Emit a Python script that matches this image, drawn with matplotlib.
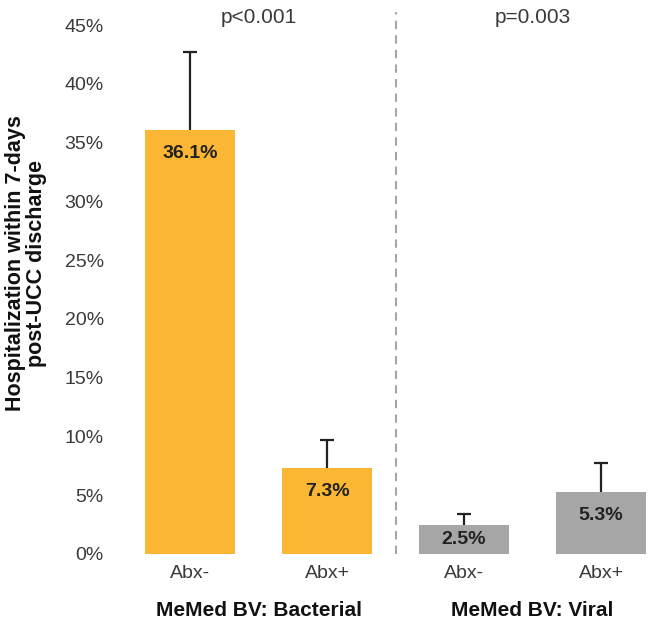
import matplotlib.pyplot as plt

plt.rcParams['font.family'] = ['Liberation Sans', 'DejaVu Sans']

categories = ['Abx-', 'Abx+', 'Abx-', 'Abx+']
values = [36.1, 7.3, 2.5, 5.3]
err_upper = [6.6, 2.4, 0.9, 2.4]
groups = ['MeMed BV: Bacterial', 'MeMed BV: Viral']
p_values = ['p<0.001', 'p=0.003']
yticks = [0, 5, 10, 15, 20, 25, 30, 35, 40, 45]

orange = '#FBB634'
gray = '#A6A6A6'
bar_colors = [orange, orange, gray, gray]

fig = plt.figure(figsize=(6.5, 6.23), dpi=100)
ax = fig.add_axes([108 / 650, 69 / 623, 541 / 650, 529 / 623])

x = list(range(len(values)))
ax.bar(x, values, width=0.66, color=bar_colors, zorder=2)
_, caps, _ = ax.errorbar(x, values, yerr=[[0] * len(values), err_upper], fmt='none',
                         ecolor='#222222', elinewidth=1.6, capsize=5,
                         capthick=1.6, zorder=3)
# only keep the upper cap
caps[0].set_visible(False)

for xi, v in zip(x, values):
    y = v - 2 if v > 4 else v / 2
    ax.text(xi, y, f'{v:.1f}%', ha='center', va='center', fontsize=14,
            fontweight='bold', color='#222222', zorder=4)

ax.set_xlim(-0.6, 3.35)
ax.set_ylim(0, 45)
ax.set_yticks(yticks)
ax.set_yticklabels([f'{t}%' for t in yticks], fontsize=14, color='#3a3a3a')
ax.set_xticks(x)
ax.set_xticklabels(categories, fontsize=14, color='#3a3a3a')
ax.tick_params(axis='both', length=0, pad=3)
ax.tick_params(axis='x', pad=8)
for s in ax.spines.values():
    s.set_visible(False)

# dashed separator between the two groups
ax.axvline(1.5, ymin=0, ymax=1.025, color='#A6A6A6', linestyle=(0, (4, 3)),
           linewidth=1.5, clip_on=False)

for gi, (g, p) in enumerate(zip(groups, p_values)):
    cx = 2 * gi + 0.5
    ax.text(cx, 45.6, p, ha='center', va='center', fontsize=15, color='#3a3a3a',
            clip_on=False)
    ax.text(cx, -4.8, g, ha='center', va='center', fontsize=15,
            fontweight='bold', color='#111111', clip_on=False)

ax.text(-0.152, 0.55, 'Hospitalization within 7-days\npost-UCC discharge',
        transform=ax.transAxes, rotation=90, ha='center', va='center',
        multialignment='center', fontsize=15.5, fontweight='bold',
        color='#111111', linespacing=1.0)

fig.savefig('out.png', dpi=100, facecolor='white')
